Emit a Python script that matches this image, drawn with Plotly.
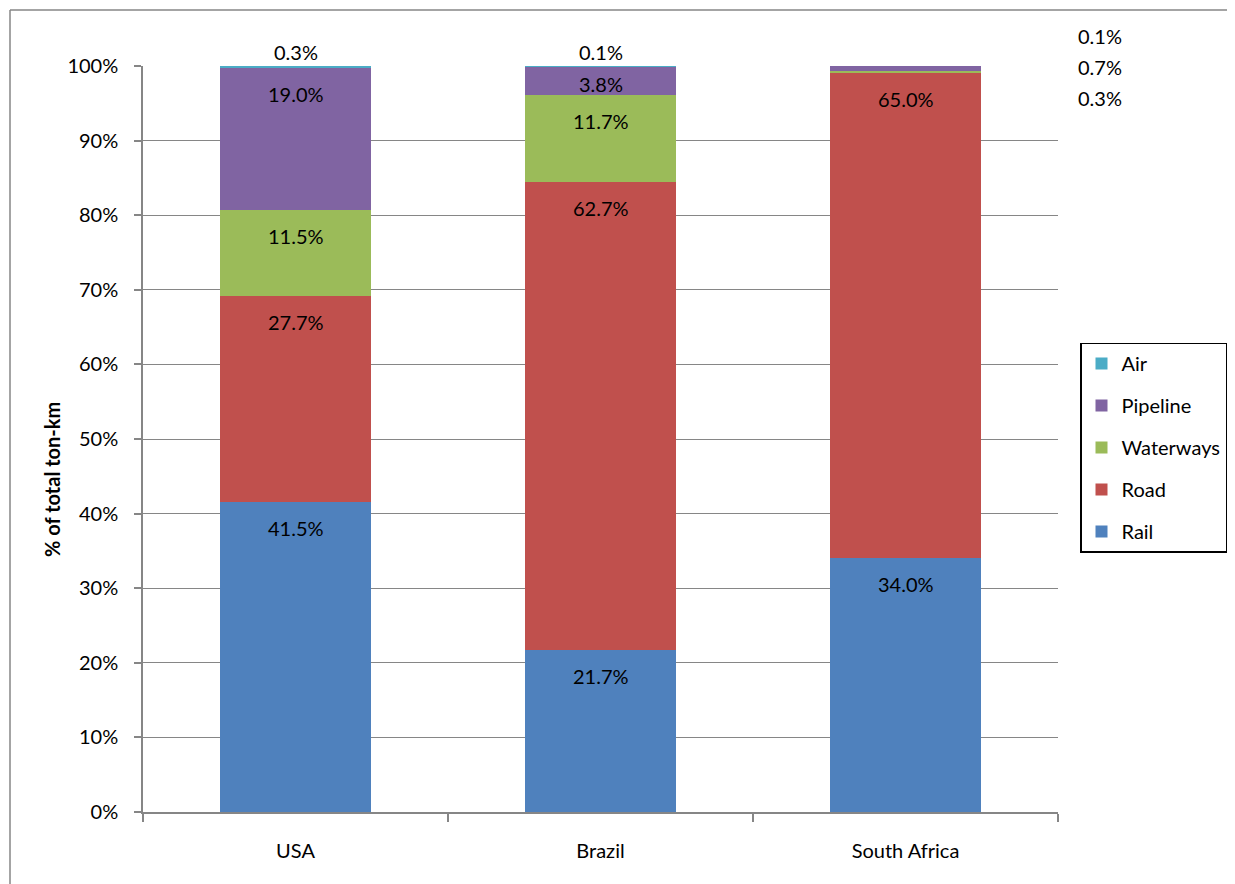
import plotly.graph_objects as go

categories = ["USA", "Brazil", "South Africa"]
series_names = ["Rail", "Road", "Waterways", "Pipeline", "Air"]
rail = [41.5, 21.7, 34.0]
road = [27.7, 62.7, 65.0]
waterways = [11.5, 11.7, 0.3]
pipeline = [19.0, 3.8, 0.7]
air = [0.3, 0.1, 0.1]
colors = ["#4F81BD", "#C0504D", "#9BBB59", "#8064A2", "#4BACC6"]
y_ticks = [0, 10, 20, 30, 40, 50, 60, 70, 80, 90, 100]
y_tick_labels = [f"{t}%" for t in y_ticks]
y_title = "% of total ton-km"

series_values = [rail, road, waterways, pipeline, air]
FONT = "Lato, Open Sans, sans-serif"
FS = 20

# plot area in page pixels (page body has 8px margin)
PL, PR, PT, PB = 143, 1058, 66, 812
OFF = 8
W, H = 1235 - OFF, 884 - OFF
PW, PH = PR - PL, PB - PT

fig = go.Figure()
n = len(series_names)
for i, (name, vals, col) in enumerate(zip(series_names, series_values, colors)):
    fig.add_trace(go.Bar(
        x=categories, y=vals, name=name, marker_color=col,
        marker_line_width=0, legendrank=n - i, legendgroup=name,
    ))

annotations = []
px_per_unit = PH / 100.0
for ci, cat in enumerate(categories):
    cum = 0.0
    for si, vals in enumerate(series_values):
        v = vals[ci]
        top = cum + v
        seg_px = v * px_per_unit
        cum = top
        if seg_px >= 20:
            shift = min(26, seg_px / 2 + 3)
            annotations.append(dict(x=cat, y=top, xref="x", yref="y", text=f"{v:.1f}%",
                                    showarrow=False, yanchor="middle", yshift=-shift,
                                    font=dict(size=FS, color="black", family=FONT)))
        elif cat != "South Africa" and si == len(series_values) - 1:
            annotations.append(dict(x=cat, y=top, xref="x", yref="y", text=f"{v:.1f}%",
                                    showarrow=False, yanchor="bottom", yshift=0,
                                    font=dict(size=FS, color="black", family=FONT)))

# South Africa small segments labelled at right side
sa_side = [(air[2], 36), (pipeline[2], 67), (waterways[2], 98)]
for v, py in sa_side:
    annotations.append(dict(x=(1100 - PL) / PW, y=(PB - py) / PH, xref="paper", yref="paper",
                            text=f"{v:.1f}%", showarrow=False, xanchor="center", yanchor="middle",
                            font=dict(size=FS, color="black", family=FONT)))

# y axis title
annotations.append(dict(x=(52 - PL) / PW, y=(PB - 480) / PH, xref="paper", yref="paper",
                        text=f"<b>{y_title}</b>", textangle=-90, showarrow=False,
                        xanchor="center", yanchor="middle",
                        font=dict(size=FS, color="black", family=FONT)))

bx = (10 - PL) / PW
by = (PB - 10) / PH
fig.update_layout(
    width=W, height=H,
    margin=dict(l=PL - OFF, r=W - (PR - OFF), t=PT - OFF, b=H - (PB - OFF), autoexpand=False),
    paper_bgcolor="white", plot_bgcolor="white",
    barmode="stack", bargap=0.505,
    font=dict(family=FONT, size=FS, color="black"),
    showlegend=True,
    legend=dict(
        x=(1080 - PL) / PW, y=(PB - 447.5) / PH, xanchor="left", yanchor="middle",
        traceorder="grouped", tracegroupgap=13,
        bordercolor="black", borderwidth=1.5, bgcolor="white",
        font=dict(size=FS, family=FONT),
    ),
    annotations=annotations,
    shapes=[
        dict(type="line", xref="paper", yref="paper", x0=bx, x1=2, y0=by, y1=by,
             line=dict(color="#868686", width=1.5)),
        dict(type="line", xref="paper", yref="paper", x0=bx, x1=bx, y0=-1, y1=by,
             line=dict(color="#868686", width=1.5)),
    ],
)

fig.update_xaxes(
    showline=True, linecolor="#868686", linewidth=1.5,
    ticks="outside", tickson="boundaries", ticklen=8, tickcolor="#868686", tickwidth=1.5,
    showgrid=False, tickfont=dict(size=FS, family=FONT), ticklabelstandoff=20,
)
fig.update_yaxes(
    range=[0, 100], tickvals=y_ticks, ticktext=y_tick_labels,
    showline=True, linecolor="#868686", linewidth=1.5,
    ticks="outside", ticklen=7, tickcolor="#868686", tickwidth=1.5,
    showgrid=True, gridcolor="#868686", gridwidth=1, zeroline=False,
    tickfont=dict(size=FS, family=FONT), ticklabelstandoff=12,
)

fig.write_html("out.html")
